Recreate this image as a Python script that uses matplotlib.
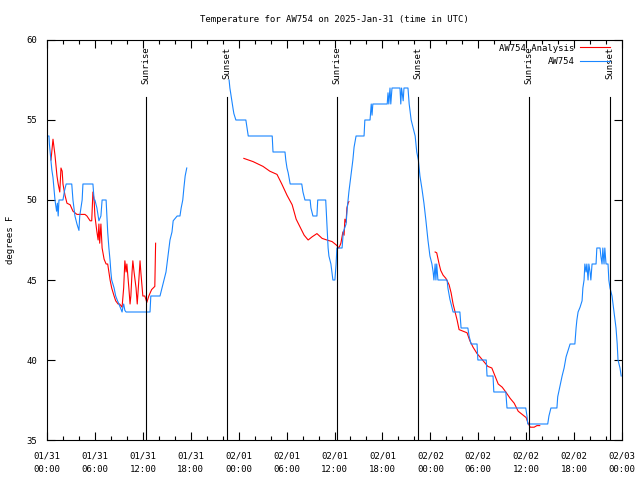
import matplotlib
matplotlib.use("Agg")
import matplotlib.pyplot as plt
import numpy as np

# hours since 2025-01-31 00:00 UTC
obs_hours = [0.0, 0.25, 0.3, 0.45, 0.6, 0.75, 0.9, 1.0, 1.2, 1.3, 1.4, 1.5, 2.0, 2.2, 2.4, 3.1,
             3.25, 3.5, 3.75, 4.0, 4.1, 4.4, 4.5, 5.75, 5.9, 6.0, 6.25, 6.5, 6.75, 6.9, 7.4, 7.5,
             7.6, 7.75, 7.9, 8.0, 8.1, 8.4, 8.6, 8.75, 9.0, 9.25, 9.4, 9.5, 9.6, 9.75, 9.9, 12.9,
             13.0, 14.15, 14.4, 14.65, 14.9, 15.15, 15.4, 15.65, 15.8, 16.3, 16.65, 16.8, 17.0,
             17.15, 17.3, 17.5,
             17.6,
             22.8, 22.9, 23.05, 23.2, 23.3, 23.4, 23.65, 24.9, 25.05, 25.2, 28.2, 28.3, 29.8, 29.9,
             30.05, 30.2, 30.45, 31.9, 32.05, 32.3, 32.95, 33.05, 33.3, 33.8, 33.9, 34.9, 35.05,
             35.2, 35.3, 35.55, 35.8, 36.05, 36.2, 36.3, 36.95, 37.1, 37.45, 37.6, 37.8, 38.05,
             38.3, 38.45, 38.7, 39.7, 39.8, 40.45, 40.6, 40.7, 40.8, 42.6, 42.7, 42.8, 42.95, 43.05,
             43.2, 44.2, 44.3, 44.4, 44.6, 44.7, 45.2, 45.35, 45.6, 45.85, 46.1, 46.3, 46.5, 46.7,
             46.95, 47.2, 47.45, 47.7, 47.95, 48.2, 48.35, 48.45, 48.6, 48.7, 48.8, 48.95, 50.1,
             50.2, 50.45, 50.7, 50.85, 51.7, 51.85, 52.7, 52.85, 53.1, 53.85, 53.95, 55.0, 55.1,
             55.85, 55.95, 57.45, 57.6, 59.95, 60.1, 60.2, 62.7, 62.85, 63.1, 63.85, 63.95, 64.2,
             64.5, 64.75, 65.0, 65.25, 65.5, 66.1, 66.25, 66.35, 66.5, 66.75, 67.0, 67.1, 67.25,
             67.35, 67.5, 67.6, 67.75, 67.85, 68.0, 68.1, 68.25, 68.75, 68.85, 69.25, 69.35, 69.5,
             69.6, 69.75, 69.85, 70.0, 70.25, 70.35, 70.5, 70.75, 71.0, 71.25, 71.4, 71.5, 71.75,
             71.9]
obs_temp = [54, 54, 53.5, 52.7, 51.9, 51.4, 50.6, 50, 49.3, 49.8, 49, 50, 50, 50.6, 51, 51,
            50, 49, 48.5, 48.1, 49, 50, 51, 51, 50, 50, 49.5, 48.7, 49, 50, 50, 49,
            48, 47, 46.2, 45.5, 45, 44.5, 44, 43.8, 43.5, 43.2, 43, 43.3, 43.5, 43.1, 43, 43,
            44, 44, 44.5, 45, 45.5, 46.5, 47.5, 48, 48.7, 49, 49, 49.5, 50,
            50.8, 51.5, 52,
            np.nan,
            57.5, 57, 56.5, 56, 55.7, 55.4, 55, 55, 54.5, 54, 54, 53, 53, 52.5,
            52, 51.7, 51, 51, 50.5, 50, 50, 49.5, 49, 49, 50, 50, 48.5,
            47, 46.5, 46, 45, 45, 46, 47, 47, 48, 48.5, 49.5, 50.5, 51.5,
            52.5, 53.3, 54, 54, 55, 55, 56, 55.3, 56, 56, 56.7, 56, 57, 56,
            57, 57, 56, 57, 56.2, 57, 57, 56, 55, 54.5, 54, 53, 52.5, 51.5,
            50.7, 49.8, 48.7, 47.5, 46.5, 46, 45.5, 45, 46, 45, 46, 45, 45,
            44.5, 43.8, 43.3, 43, 43, 42, 42, 41.5, 41, 41, 40, 40, 39,
            39, 38, 38, 37, 37, 36.5, 36, 36, 36.5, 37, 37, 37.7, 38.3,
            39, 39.5, 40.2, 40.6, 41, 41, 42, 42.5, 43, 43.3, 43.7, 44.5, 45,
            46, 45.5, 46, 45, 46, 45.5, 45, 46, 46, 47, 47, 46.5, 46,
            47, 46, 47, 46, 46, 45, 44.5, 44, 43, 42, 41, 40, 39.5,
            39]

ana_hours = [0.5, 0.75, 1.0, 1.25, 1.4, 1.6, 1.75, 1.9, 2.0, 2.25, 2.5, 2.9, 3.25, 3.75, 4.75,
             5.0, 5.4, 5.6, 5.75, 5.9, 6.0, 6.25, 6.4, 6.5, 6.6, 6.75, 6.9, 7.15, 7.4, 7.6, 7.9,
             8.1, 8.4, 8.6, 8.9, 9.1, 9.4, 9.6, 9.75, 9.9, 10.0, 10.25, 10.4, 10.5, 10.65, 10.75,
             10.9, 11.15, 11.3, 11.5, 11.65, 11.75, 12.0, 12.25, 12.5, 12.75, 13.1, 13.5, 13.6,
             13.7,
             24.65, 25.8, 27.05, 27.9, 28.8, 29.4, 30.05, 30.7, 31.2, 31.7, 32.2, 32.7, 33.2, 33.8,
             34.45, 35.05, 35.7, 36.2, 36.55, 36.8, 37.05, 37.2, 37.3, 37.45, 37.55, 37.7, 37.8,
             37.9,
             48.6, 48.8, 49.1, 49.3, 49.6, 49.95, 50.35, 50.6, 50.85, 51.1, 51.35, 51.6, 52.1, 52.6,
             52.95, 53.35, 53.85, 54.2, 54.7, 55.2, 55.7, 56.1, 56.5, 57.0, 57.45, 58.0, 58.5,
             59.0, 59.5, 60.0, 60.2, 60.5, 61.0, 61.35, 61.7]
ana_temp = [52.5, 53.8, 52.8, 51.5, 51, 50.5, 52, 51.8, 51, 50.3, 49.8, 49.7, 49.3, 49.1, 49.1,
            49, 48.7, 48.7, 50.5, 50, 49, 48, 47.5, 48.5, 47.3, 48.5, 47, 46.3, 46, 46, 45,
            44.5, 44, 43.7, 43.5, 43.5, 43.3, 44.5, 46.2, 45.5, 46, 44.5, 43.5, 44, 45.5, 46.2,
            45.5, 44.5, 43.5, 45, 46.2, 45.5, 44, 44, 43.6, 44, 44.4, 44.6, 47.3,
            np.nan,
            52.6, 52.4, 52.1, 51.8, 51.6, 51, 50.3, 49.7, 48.8, 48.3, 47.8, 47.5, 47.7, 47.9,
            47.6, 47.5, 47.4, 47.2, 47, 47.3, 48, 47.8, 48.8, 48.6, 49.5, 49.8, 49.9,
            np.nan,
            46.75, 46.7, 46, 45.6, 45.3, 45.1, 44.7, 44.2, 43.5, 43, 42.5, 41.9, 41.8, 41.7,
            41.2, 40.8, 40.4, 40.2, 39.9, 39.6, 39.5, 39, 38.5, 38.3, 38, 37.6, 37.3,
            36.8, 36.6, 36.4, 36.1, 35.8, 35.8, 35.9, 35.9]

sun_hours = [12.4, 22.55, 36.3, 46.45, 60.35, 70.5]
sun_labels = ["Sunrise", "Sunset", "Sunrise", "Sunset", "Sunrise", "Sunset"]

tick_hours = list(range(0, 73, 6))
tick_labels = ["01/31\n00:00", "01/31\n06:00", "01/31\n12:00", "01/31\n18:00",
               "02/01\n00:00", "02/01\n06:00", "02/01\n12:00", "02/01\n18:00",
               "02/02\n00:00", "02/02\n06:00", "02/02\n12:00", "02/02\n18:00",
               "02/03\n00:00"]

plt.rcParams['font.family'] = ['DejaVu Sans Mono']
fs = 6.5

fig = plt.figure(figsize=(6.4, 4.8), dpi=100)
ax = fig.add_axes([47/640, 40/480, 575/640, 400/480])

ax.plot(ana_hours, ana_temp, color='#ff0000', lw=0.8, label='AW754 Analysis')
ax.plot(obs_hours, obs_temp, color='#1a86ff', lw=0.8, label='AW754')

for h, lab in zip(sun_hours, sun_labels):
    ax.plot([h, h], [35, 56.45], color='black', lw=0.8)
    ax.text(h, 59.6, lab, rotation=90, ha='center', va='top', fontsize=fs)

ax.set_xlim(0, 72)
ax.set_ylim(35, 60)
ax.set_xticks(tick_hours)
ax.set_xticklabels(tick_labels, fontsize=fs, linespacing=1.75)
ax.set_xticks(range(0, 73, 2), minor=True)
ax.set_yticks(range(35, 61, 5))
ax.tick_params(axis='y', labelsize=fs, pad=7)
ax.tick_params(which='both', direction='in', top=True, right=True, width=0.8)
ax.tick_params(which='major', length=6)
ax.tick_params(which='minor', length=3)
ax.tick_params(axis='x', pad=8)
for s in ax.spines.values():
    s.set_linewidth(0.8)

ax.set_ylabel("degrees F", fontsize=fs, labelpad=8)
ax.set_title("Temperature for AW754 on 2025-Jan-31 (time in UTC)", fontsize=fs, pad=13)

leg = ax.legend(loc='upper right', bbox_to_anchor=(1 - 8/575, 1.0), fontsize=fs,
                frameon=False, markerfirst=False, handlelength=3.4, borderaxespad=0,
                labelspacing=0.45, handletextpad=0.6)
for t in leg.get_texts():
    t.set_ha('right')
leg._legend_box.align = "right"

fig.savefig("out.png", dpi=100)
